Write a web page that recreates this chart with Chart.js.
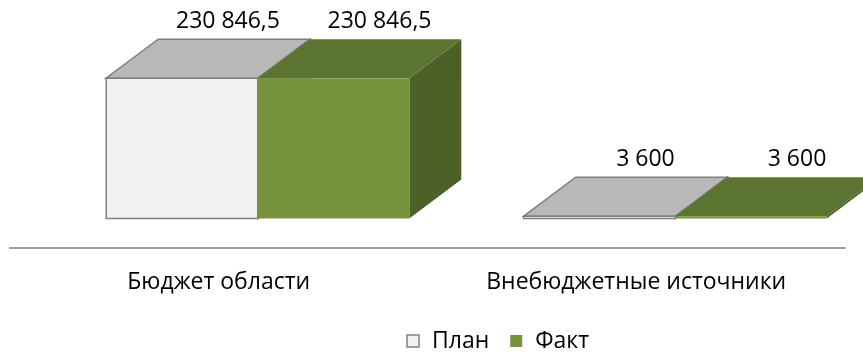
<!DOCTYPE html>
<html>
<head>
<meta charset="utf-8">
<script src="https://cdn.jsdelivr.net/npm/chart.js@4.4.0/dist/chart.umd.min.js"></script>
<style>
  html, body { margin: 0; padding: 0; background: #fff; }
  #wrap { width: 863px; height: 354px; }
</style>
</head>
<body>
<div id="wrap"><canvas id="budgetChart"></canvas></div>
<script>
var categories = ['Бюджет области', 'Внебюджетные источники'];
var seriesNames = ['План', 'Факт'];
var planValues = [230846.5, 3600];
var factValues = [230846.5, 3600];

var FONT = '"Open Sans", "Noto Sans", sans-serif';
var FONT_SIZE = 23;

// colours of the box faces, one entry per series
var faces = [
    { front: '#F2F2F2', top: '#B8B8B8', side: '#A6A6A6', stroke: '#808080' },
    { front: '#77933C', top: '#5B7431', side: '#4B6127', stroke: null }
];

// bars stand back from the floor edge, then have depth
var FLOOR_DX = 39, FLOOR_DY = -30;
var DEPTH_DX = 52, DEPTH_DY = -39;

function fmt(v) {
    var parts = String(v).split('.');
    var whole = parts[0].replace(/\B(?=(\d{3})+(?!\d))/g, ' ');
    return parts[1] ? whole + ',' + parts[1] : whole;
}

function poly(ctx, pts, fill, stroke) {
    ctx.beginPath();
    ctx.moveTo(pts[0][0], pts[0][1]);
    for (var k = 1; k < pts.length; k++) ctx.lineTo(pts[k][0], pts[k][1]);
    ctx.closePath();
    ctx.fillStyle = fill;
    ctx.fill();
    if (stroke) {
        ctx.strokeStyle = stroke;
        ctx.lineWidth = 1.5;
        ctx.stroke();
    }
}

var boxes3d = {
    id: 'boxes3d',
    afterDatasetsDraw: function (chart) {
        var ctx = chart.ctx;
        var n = chart.data.labels.length;
        var labelPos = [];
        ctx.save();
        for (var i = 0; i < n; i++) {
            for (var d = 0; d < chart.data.datasets.length; d++) {
                var bar = chart.getDatasetMeta(d).data[i];
                var p = bar.getProps(['x', 'y', 'base', 'width'], true);
                var f = faces[d];
                var x0 = p.x - p.width / 2 + FLOOR_DX;
                var x1 = p.x + p.width / 2 + FLOOR_DX;
                var yT = p.y + FLOOR_DY;
                var yB = p.base + FLOOR_DY;
                poly(ctx, [[x1, yB], [x1 + DEPTH_DX, yB + DEPTH_DY], [x1 + DEPTH_DX, yT + DEPTH_DY], [x1, yT]], f.side, f.stroke);
                poly(ctx, [[x0, yT], [x0 + DEPTH_DX, yT + DEPTH_DY], [x1 + DEPTH_DX, yT + DEPTH_DY], [x1, yT]], f.top, f.stroke);
                poly(ctx, [[x0, yT], [x1, yT], [x1, yB], [x0, yB]], f.front, f.stroke);
                labelPos.push({ x: p.x + FLOOR_DX + 46, y: yT + DEPTH_DY - 18, text: fmt(chart.data.datasets[d].data[i]) });
            }
        }
        ctx.fillStyle = '#000';
        ctx.font = FONT_SIZE + 'px ' + FONT;
        ctx.textAlign = 'center';
        ctx.textBaseline = 'middle';
        labelPos.forEach(function (l) { ctx.fillText(l.text, l.x, l.y); });
        ctx.restore();
    },
    afterDraw: function (chart) {
        // legend, drawn by hand so it can sit right of centre like the original
        var ctx = chart.ctx;
        ctx.save();
        ctx.font = FONT_SIZE + 'px ' + FONT;
        ctx.textBaseline = 'middle';
        ctx.textAlign = 'left';
        var x = 407, y = 341;
        chart.data.datasets.forEach(function (ds, d) {
            var f = faces[d];
            ctx.fillStyle = f.front;
            ctx.fillRect(x, y - 6, 12, 12);
            if (f.stroke) {
                ctx.strokeStyle = f.stroke;
                ctx.lineWidth = 1.5;
                ctx.strokeRect(x, y - 6, 12, 12);
            }
            ctx.fillStyle = '#000';
            ctx.fillText(ds.label, x + 25, y);
            x += 25 + ctx.measureText(ds.label).width + 21;
        });
        ctx.restore();
    }
};

var ctx = document.getElementById('budgetChart').getContext('2d');
var budgetChart = new Chart(ctx, {
    type: 'bar',
    data: {
        labels: categories,
        datasets: [{
            label: seriesNames[0],
            data: planValues,
            backgroundColor: 'rgba(0,0,0,0)',
            borderWidth: 0
        }, {
            label: seriesNames[1],
            data: factValues,
            backgroundColor: 'rgba(0,0,0,0)',
            borderWidth: 0
        }]
    },
    options: {
        responsive: true,
        maintainAspectRatio: false,
        animation: false,
        categoryPercentage: 0.726,
        barPercentage: 1,
        layout: { padding: { left: 10, right: 18, top: 0, bottom: 46 } },
        plugins: {
            legend: { display: false },
            tooltip: { enabled: false }
        },
        scales: {
            x: {
                grid: { display: false },
                border: { display: true, color: '#A0A0A0', width: 2 },
                ticks: {
                    color: '#000',
                    padding: 12,
                    maxRotation: 0,
                    font: { family: FONT, size: FONT_SIZE }
                }
            },
            y: {
                display: false,
                min: 0,
                max: 409000
            }
        }
    },
    plugins: [boxes3d]
});
</script>
</body>
</html>
